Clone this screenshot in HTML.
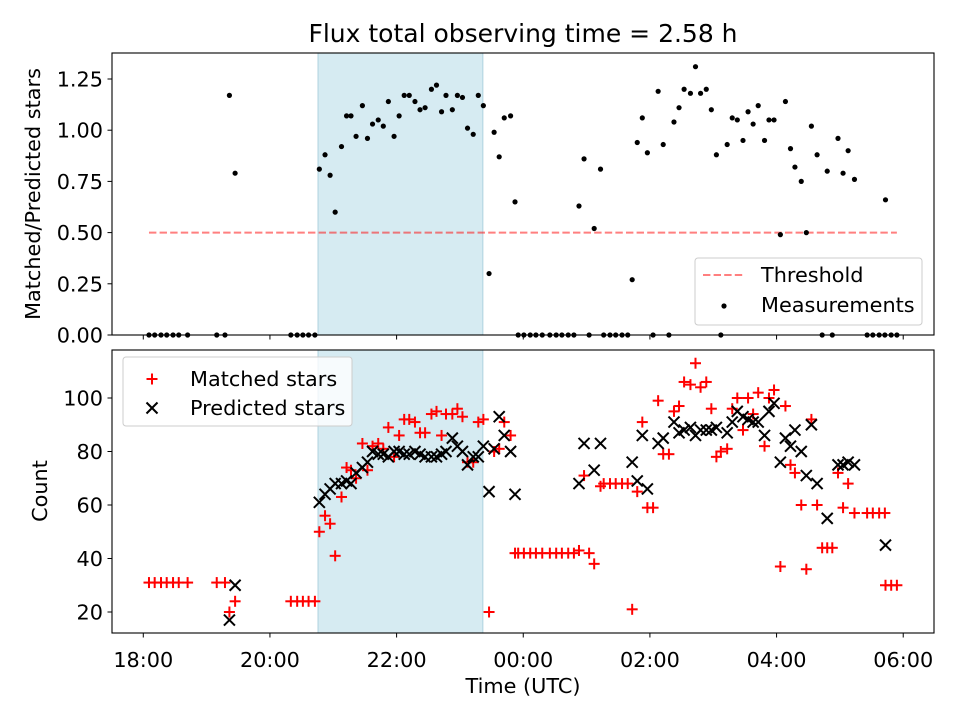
<!DOCTYPE html>
<html><head><meta charset="utf-8"><style>
html,body{margin:0;padding:0;background:#fff;}
svg{display:block;font-family:"DejaVu Sans","Liberation Sans",sans-serif;}
</style></head><body>
<svg id="chart" width="960" height="720" viewBox="0 0 960 720" xmlns="http://www.w3.org/2000/svg"></svg>
<script>
// hours since 18:00 UTC
const times=[0.09,0.18,0.28,0.37,0.47,0.56,0.70,1.16,1.29,1.36,1.45,2.33,2.43,2.52,2.61,2.71,2.78,2.87,2.95,3.03,3.13,3.21,3.28,3.36,3.46,3.54,3.62,3.71,3.79,3.87,3.96,4.04,4.12,4.20,4.29,4.37,4.45,4.55,4.63,4.71,4.78,4.88,4.96,5.04,5.12,5.21,5.29,5.37,5.46,5.54,5.62,5.70,5.80,5.87,5.92,6.01,6.11,6.20,6.30,6.42,6.52,6.61,6.71,6.80,6.88,6.96,7.04,7.12,7.22,7.27,7.37,7.46,7.56,7.65,7.72,7.80,7.88,7.96,8.05,8.13,8.21,8.30,8.38,8.46,8.54,8.64,8.72,8.80,8.89,8.97,9.05,9.12,9.22,9.30,9.38,9.47,9.55,9.63,9.71,9.81,9.88,9.96,10.06,10.14,10.22,10.29,10.39,10.47,10.55,10.64,10.72,10.80,10.88,10.97,11.05,11.13,11.23,11.43,11.52,11.62,11.71,11.72,11.81,11.90];
const ratio=[0,0,0,0,0,0,0,0,0,1.17,0.79,0,0,0,0,0,0.81,0.88,0.78,0.60,0.92,1.07,1.07,0.97,1.12,0.96,1.03,1.05,1.02,1.14,0.97,1.07,1.17,1.17,1.14,1.10,1.11,1.20,1.22,1.09,1.17,1.10,1.17,1.16,1.01,0.98,1.17,1.12,0.30,0.99,0.87,1.06,1.07,0.65,0,0,0,0,0,0,0,0,0,0,0.63,0.86,0,0.52,0.81,0,0,0,0,0,0.27,0.94,1.06,0.89,0,1.19,0.93,0,1.04,1.11,1.20,1.18,1.31,1.18,1.20,1.10,0.88,0,0.93,1.06,1.05,0.95,1.09,1.03,1.12,0.95,1.05,1.05,0.49,1.14,0.91,0.82,0.75,0.50,1.02,0.88,0,0.80,0,0.96,0.79,0.90,0.76,0,0,0,0,0.66,0,0];
const matched=[31,31,31,31,31,31,31,31,31,20,24,24,24,24,24,24,50,56,53,41,63,74,73,70,83,73,82,83,81,89,78,86,92,92,91,87,87,94,95,86,94,94,96,93,76,76,91,92,20,80,81,91,86,42,42,42,42,42,42,42,42,42,42,42,43,71,42,38,67,68,68,68,68,68,21,65,91,59,59,99,79,79,95,97,106,105,113,104,106,96,78,80,81,96,100,88,100,94,102,82,100,103,37,97,75,72,60,36,92,60,44,44,44,72,59,68,57,57,57,57,57,30,30,30];
const predicted=[null,null,null,null,null,null,null,null,null,17,30,null,null,null,null,null,61,64,66,68,68,69,68,72,74,76,80,79,79,78,80,80,79,79,80,79,78,78,78,79,80,85,82,80,75,78,78,82,65,81,93,86,80,64,null,null,null,null,null,null,null,null,null,null,68,83,null,73,83,null,null,null,null,null,76,69,86,66,null,83,85,null,91,87,88,89,86,88,88,88,89,null,87,91,95,93,92,91,91,86,95,98,76,85,82,88,80,71,90,68,null,55,null,75,75,76,75,null,null,null,null,45,null,null];
const xTickLabels=["18:00","20:00","22:00","00:00","02:00","04:00","06:00"];
const xTickHours=[0,2,4,6,8,10,12];
const topTicks=[0,0.25,0.5,0.75,1.0,1.25];
const botTicks=[20,40,60,80,100];
const threshold=0.5;
const spanHours=[2.758,5.363];

const NS="http://www.w3.org/2000/svg";
const svg=document.getElementById('chart');
function mk(tag,attrs,parent){const e=document.createElementNS(NS,tag);for(const k in attrs)e.setAttribute(k,attrs[k]);(parent||svg).appendChild(e);return e;}
const FS='20.8';
const L=112,R=934;
const x=h=>L+(h+0.494)/(12.98)*(R-L);
const T1=53,B1=335,T2=350,B2=633;
const yTop=v=>B1-v*204.8;
const yBot=c=>612-(c-20)*2.675;

const title=mk('text',{x:523,y:42,'text-anchor':'middle','font-size':'25'});
title.textContent='Flux total observing time = 2.58 h';



function panel(top,bot,name){
  const g=mk('g',{});
  
  
  const sp=mk('rect',{x:x(spanHours[0]),y:top,width:x(spanHours[1])-x(spanHours[0]),height:bot-top,fill:'rgba(173,216,230,0.5)',stroke:'rgba(120,180,200,0.5)','stroke-width':1},g);
  
  
  return g;
}
function frame(g,top,bot,labels){
  mk('rect',{x:L,y:top,width:R-L,height:bot-top,fill:'none',stroke:'#000','stroke-width':1.1},g);
  xTickHours.forEach((h,i)=>{
    mk('line',{x1:x(h),x2:x(h),y1:bot,y2:bot+4.5,stroke:'#000','stroke-width':1},g);
    if(labels){const t=mk('text',{x:x(h),y:bot+34,'text-anchor':'middle','font-size':FS},g);t.textContent=xTickLabels[i];
      
      }
  });
}

const g1=panel(T1,B1,'ratio-panel');
const th=mk('line',{x1:x(times[0]),x2:x(times[times.length-1]),y1:yTop(threshold),y2:yTop(threshold),stroke:'rgba(255,0,0,0.5)','stroke-width':2,'stroke-dasharray':'7.4,3.2'},g1);


times.forEach((t,i)=>{
  const c=mk('circle',{cx:x(t),cy:yTop(ratio[i]),r:2.6,fill:'#000'},g1);
  
  
});
frame(g1,T1,B1,false);
topTicks.forEach(v=>{
  mk('line',{x1:L-4.5,x2:L,y1:yTop(v),y2:yTop(v),stroke:'#000'},g1);
  const t=mk('text',{x:L-9,y:yTop(v)+7.5,'text-anchor':'end','font-size':FS},g1);t.textContent=v.toFixed(2);
  
  
});
const yl1=mk('text',{transform:'translate(40,194) rotate(-90)','text-anchor':'middle','font-size':FS});
yl1.textContent='Matched/Predicted stars';


const lg1=mk('g',{});


mk('rect',{x:695,y:258,width:227,height:67,rx:3,fill:'rgba(255,255,255,0.8)',stroke:'#ccc'},lg1);
mk('line',{x1:703,x2:745,y1:275,y2:275,stroke:'rgba(255,0,0,0.5)','stroke-width':2,'stroke-dasharray':'7.4,3.2'},lg1);
let t=mk('text',{x:761,y:282,'font-size':FS},lg1);t.textContent='Threshold';
mk('circle',{cx:724,cy:306,r:2.6,fill:'#000'},lg1);
t=mk('text',{x:761,y:312,'font-size':FS},lg1);t.textContent='Measurements';

const g2=panel(T2,B2,'count-panel');
function plus(cx,cy,p){const g=mk('g',{stroke:'#f00','stroke-width':2},p);mk('line',{x1:cx-5.5,x2:cx+5.5,y1:cy,y2:cy},g);mk('line',{x1:cx,x2:cx,y1:cy-5.5,y2:cy+5.5},g);return g;}
function cross(cx,cy,p){const g=mk('g',{stroke:'#000','stroke-width':2},p);mk('line',{x1:cx-5.5,x2:cx+5.5,y1:cy-5.5,y2:cy+5.5},g);mk('line',{x1:cx-5.5,x2:cx+5.5,y1:cy+5.5,y2:cy-5.5},g);return g;}
times.forEach((tt,i)=>{
  const m=plus(x(tt),yBot(matched[i]),g2);
  
  
});
times.forEach((tt,i)=>{
  if(predicted[i]==null)return;
  const p=cross(x(tt),yBot(predicted[i]),g2);
  
  
});
frame(g2,T2,B2,true);
botTicks.forEach(v=>{
  mk('line',{x1:L-4.5,x2:L,y1:yBot(v),y2:yBot(v),stroke:'#000'},g2);
  const tx=mk('text',{x:L-9,y:yBot(v)+7.5,'text-anchor':'end','font-size':FS},g2);tx.textContent=v;
  
  
});
const yl2=mk('text',{transform:'translate(47,491) rotate(-90)','text-anchor':'middle','font-size':FS});
yl2.textContent='Count';


const xl=mk('text',{x:523,y:693,'text-anchor':'middle','font-size':FS});
xl.textContent='Time (UTC)';


const lg2=mk('g',{});


mk('rect',{x:123,y:357,width:229,height:69,rx:3,fill:'rgba(255,255,255,0.8)',stroke:'#ccc'},lg2);
plus(152,379,lg2);
t=mk('text',{x:190,y:386,'font-size':FS},lg2);t.textContent='Matched stars';
cross(152,408,lg2);
t=mk('text',{x:190,y:415,'font-size':FS},lg2);t.textContent='Predicted stars';
</script>
</body></html>
